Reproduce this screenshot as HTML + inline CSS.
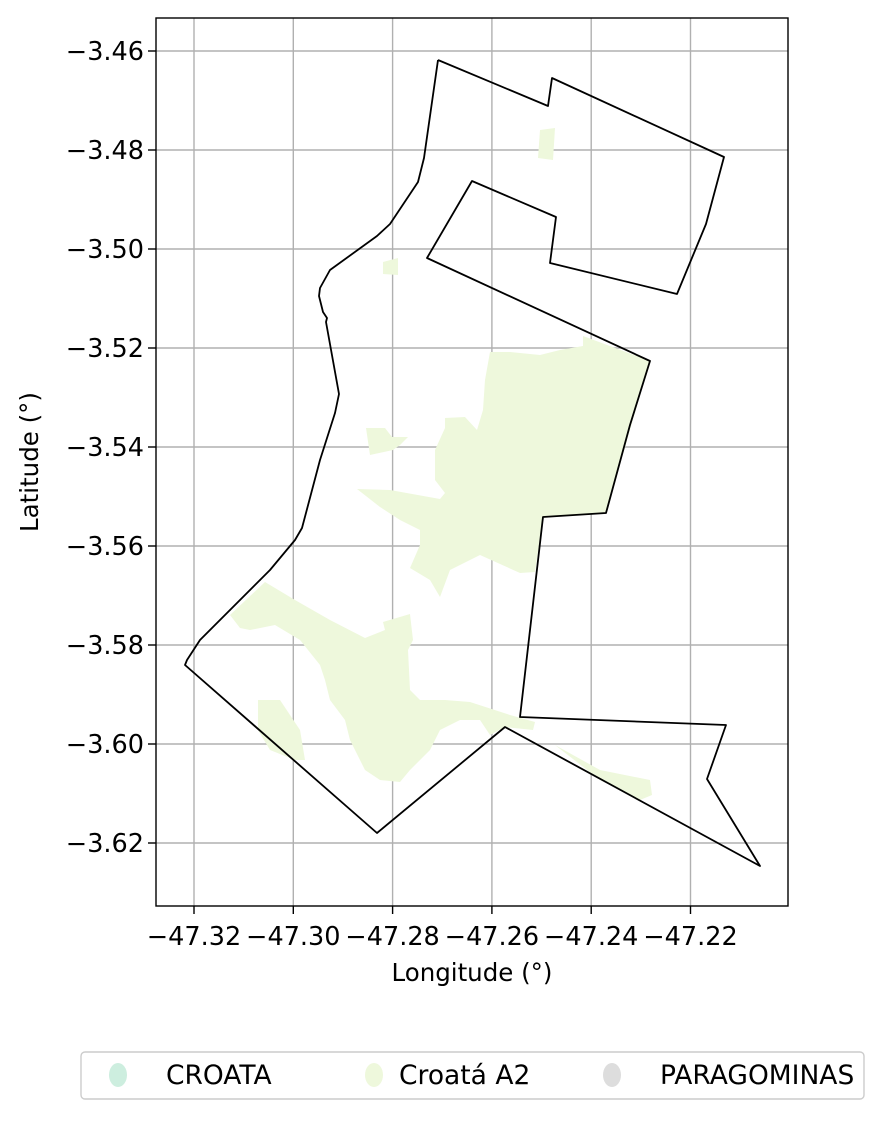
<!DOCTYPE html>
<html><head><meta charset="utf-8"><style>
body{margin:0;background:#fff;}
svg text{font-family:"DejaVu Sans","Liberation Sans",sans-serif;fill:#000;}
</style></head><body>
<svg id="chart" width="884" height="1119" xmlns="http://www.w3.org/2000/svg">
<g id="grid"></g>
<g id="areas"></g>
<g id="outline"></g>
<rect x="156" y="18" width="632" height="888" fill="none" stroke="#000" stroke-width="1.4"/>
<g id="ticks"></g>
<text x="472" y="981" font-size="24.5" text-anchor="middle">Longitude (°)</text>
<text x="0" y="0" font-size="24.5" text-anchor="middle" transform="translate(38,462) rotate(-90)">Latitude (°)</text>
<g>
<rect x="81" y="1052" width="783" height="47" rx="4" fill="#fff" stroke="#ccc" stroke-width="1.4"/>
<g><ellipse cx="118" cy="1075" rx="9" ry="12" fill="#cdeedf"/><text x="166" y="1084" font-size="26.5">CROATA</text></g>
<g><ellipse cx="374" cy="1075" rx="9" ry="12" fill="#eef8dc"/><text x="399" y="1084" font-size="26.5">Croatá A2</text></g>
<g><ellipse cx="612" cy="1075" rx="9" ry="12" fill="#dddddd"/><text x="660" y="1084" font-size="26.5">PARAGOMINAS</text></g>
</g>
</svg>
<script>
const xTicks=[-47.32,-47.30,-47.28,-47.26,-47.24,-47.22];
const yTicks=[-3.46,-3.48,-3.50,-3.52,-3.54,-3.56,-3.58,-3.60,-3.62];
const outlinePx=[[438,60],[548,106],[552,78],[724,157],[706,224],[677,294],[550,263],[556,217],[472,181],[427,258],[650,361],[630,425],[606,513],[543,517],[520,717],[726,725],[707,779],[760,866],[505,727],[377,833],[185,665],[187,660],[200,640],[230,610],[270,570],[295,540],[302,528],[320,460],[335,413],[339,394],[326,322],[327,318],[323,312],[319,296],[320,288],[330,270],[377,236],[390,224],[418,182],[424,158],[438,60]];
const areasPx=[
[[583,336],[650,361],[606,513],[543,517],[535,572],[520,573],[480,555],[470,560],[450,570],[440,597],[430,580],[410,568],[420,545],[420,530],[400,520],[380,507],[357,489],[390,490],[440,499],[445,493],[435,480],[435,450],[445,428],[445,418],[465,417],[477,430],[483,410],[485,380],[490,352],[510,352],[540,355],[560,350],[583,346]],
[[366,428],[385,428],[392,437],[408,437],[400,445],[393,450],[370,455]],
[[230,615],[265,582],[295,600],[330,620],[365,638],[385,630],[383,622],[410,614],[413,640],[408,650],[410,690],[420,700],[445,700],[470,702],[510,715],[535,722],[533,730],[505,727],[490,735],[480,720],[460,720],[440,730],[430,750],[410,770],[400,782],[380,780],[365,770],[350,740],[345,720],[330,700],[325,680],[320,665],[300,640],[275,625],[250,630],[240,628]],
[[258,700],[280,700],[300,730],[305,760],[295,760],[270,750],[258,730]],
[[555,745],[600,770],[650,780],[652,795],[640,800],[600,780]],
[[540,130],[555,128],[553,160],[538,158]],
[[383,262],[398,258],[398,275],[383,274]]
];
function X(lon){return 194+(lon+47.32)*4965;}
function Y(lat){return 51+(-3.46-lat)*4950;}
function lonOf(px){return (px-194)/4965-47.32;}
function latOf(py){return -3.46-(py-51)/4950;}
const outline=outlinePx.map(p=>[lonOf(p[0]),latOf(p[1])]);
const areas=areasPx.map(a=>a.map(p=>[lonOf(p[0]),latOf(p[1])]));
const NS='http://www.w3.org/2000/svg';
function mk(t,a,parent){const e=document.createElementNS(NS,t);for(const k in a)e.setAttribute(k,a[k]);parent.appendChild(e);return e;}
const grid=document.getElementById('grid'),ticks=document.getElementById('ticks');
xTicks.forEach(v=>{const x=X(v);
 const l=mk('line',{x1:x,x2:x,y1:18,y2:906,stroke:'#b0b0b0','stroke-width':1.4},grid);
 
 
 mk('line',{x1:x,x2:x,y1:906,y2:914,stroke:'#000','stroke-width':1.4},ticks);
 const t=mk('text',{x:x,y:945,'font-size':25.5,'text-anchor':'middle'},ticks);t.textContent=v.toFixed(2).replace('-','\u2212');
 
 
});
yTicks.forEach(v=>{const y=Y(v);
 const l=mk('line',{x1:156,x2:788,y1:y,y2:y,stroke:'#b0b0b0','stroke-width':1.4},grid);
 
 
 mk('line',{x1:148,x2:156,y1:y,y2:y,stroke:'#000','stroke-width':1.4},ticks);
 const t=mk('text',{x:144,y:y+9,'font-size':25.5,'text-anchor':'end'},ticks);t.textContent=v.toFixed(2).replace('-','\u2212');
 
 
});
const ag=document.getElementById('areas');
areas.forEach(a=>{const p=mk('polygon',{points:a.map(q=>X(q[0])+','+Y(q[1])).join(' '),fill:'#eef8dc'},ag);
 
 
});
const o=mk('polyline',{points:outline.map(q=>X(q[0])+','+Y(q[1])).join(' '),fill:'none',stroke:'#000','stroke-width':1.8,'stroke-linejoin':'round'},document.getElementById('outline'));


</script>
</body></html>
